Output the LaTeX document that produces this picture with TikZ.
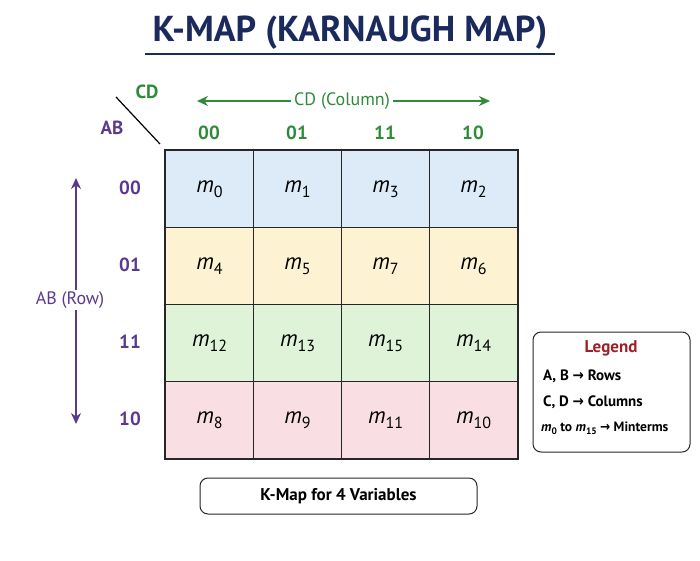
\documentclass[tikz,border=0pt]{standalone}
\usepackage{fontspec}
\setmainfont{PT Sans}
\usetikzlibrary{arrows.meta}
\definecolor{navy}{HTML}{1B2A5C}
\definecolor{grn}{HTML}{2E8B3A}
\definecolor{purp}{HTML}{5B3A8E}
\definecolor{rowA}{HTML}{DDEBF8}
\definecolor{rowB}{HTML}{FDF3D2}
\definecolor{rowC}{HTML}{DEF3D8}
\definecolor{rowD}{HTML}{F9DEE3}
\definecolor{legred}{HTML}{A01E28}
\newcommand{\mt}[1]{\textit{m}\raisebox{-0.4ex}{\scalebox{0.7}{#1}}}
\newcommand{\rarr}{{\fontspec{DejaVu Sans Condensed Bold}→}}
\begin{document}
\begin{tikzpicture}[x=1pt,y=-1pt,
  cell/.style={draw=black!85,line width=1.2pt,minimum width=88pt,minimum height=77pt,anchor=north west,inner sep=0pt,font=\fontsize{23}{23}\selectfont},
  colh/.style={text=grn,font=\bfseries\fontsize{19}{19}\selectfont},
  rowh/.style={text=purp,font=\bfseries\fontsize{19}{19}\selectfont},
  leg/.style={anchor=west,inner sep=1pt,font=\bfseries\fontsize{15}{15}\selectfont},
  box/.style={draw=black!85,line width=1pt,rounded corners=8pt}]
\useasboundingbox (0,0) rectangle (700,560);
\node[text=navy,font=\bfseries\fontsize{36}{36}\selectfont] (title) at (350,33) {K-MAP (KARNAUGH MAP)};
\draw[navy,line width=1.5pt] (145,54) coordinate (u1) -- (555,54) coordinate (u2);
\foreach \r/\y/\c/\a/\b/\cc/\d in {0/150/rowA/0/1/3/2,1/227/rowB/4/5/7/6,2/304/rowC/12/13/15/14,3/381/rowD/8/9/11/10}{
  \node[cell,fill=\c] (c\r0) at (165,\y) {\mt{\a}};
  \node[cell,fill=\c] (c\r1) at (253,\y) {\mt{\b}};
  \node[cell,fill=\c] (c\r2) at (341,\y) {\mt{\cc}};
  \node[cell,fill=\c] (c\r3) at (429,\y) {\mt{\d}};
}
\draw[black!85,line width=1.6pt] (c00.north west) rectangle (c33.south east);
\foreach \t/\x [count=\i] in {00/209,01/297,11/385,10/473}{\node[colh] (ch\i) at (\x,133) {\t};}
\foreach \t/\y [count=\i] in {00/188,01/265,11/342,10/419}{\node[rowh] (rh\i) at (130,\y) {\t};}
\node[colh] (cdl) at (147,92) {CD};
\node[rowh] (abl) at (112,128) {AB};
\coordinate (d1) at (116,97); \coordinate (d2) at (160,144);
\draw[line width=1.2pt] (d1) -- (d2);
\node[text=grn,font=\fontsize{18}{18}\selectfont] (cdc) at (342,101) {CD (Column)};
\coordinate (ca) at (197,101); \coordinate (cb) at (490,101);
\draw[grn,line width=1.3pt,-{Stealth[length=11pt,width=10pt]}] (cdc.west) -- (ca);
\draw[grn,line width=1.3pt,-{Stealth[length=11pt,width=10pt]}] (cdc.east) -- (cb);
\coordinate (ra) at (76,178); \coordinate (rb) at (76,424);
\draw[purp,line width=1.3pt,{Stealth[length=11pt,width=10pt]}-{Stealth[length=11pt,width=10pt]}] (ra) -- (rb);
\node[fill=white,text=purp,font=\fontsize{18}{18}\selectfont,inner sep=2pt] (abr) at (70,300) {AB (Row)};
\draw[box] (533,332) rectangle (690,452);
\node[text=legred,font=\bfseries\fontsize{17}{17}\selectfont] (lt) at (611,348) {Legend};
\node[leg] (l1) at (542,376) {A, B \rarr{} Rows};
\node[leg] (l2) at (542,402) {C, D \rarr{} Columns};
\node[leg,font=\bfseries\fontsize{13.5}{13.5}\selectfont] (l3) at (540,428) {\mt{0} to \mt{15} \rarr{} Minterms};
\node[box,minimum width=277pt,minimum height=36pt,font=\bfseries\fontsize{17}{17}\selectfont] (cap) at (338.5,496) {K-Map for 4 Variables};
\end{tikzpicture}
\end{document}
